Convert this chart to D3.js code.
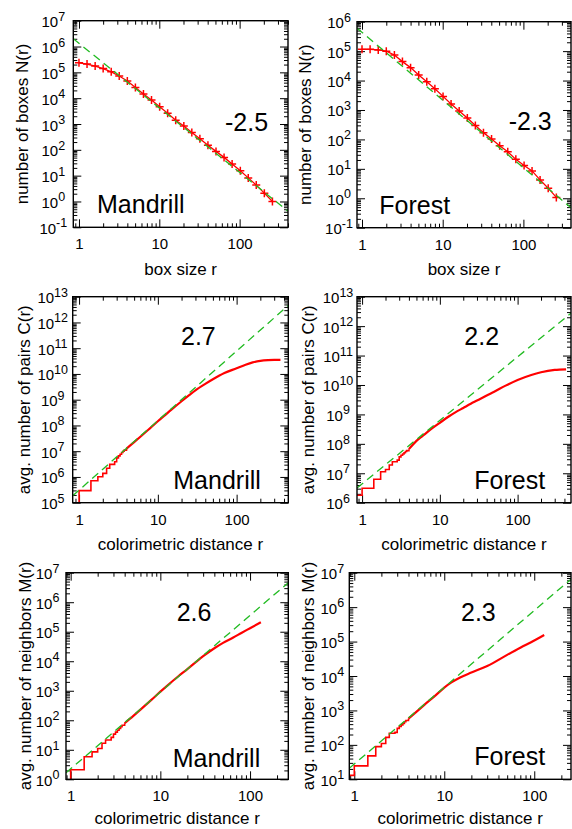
<!DOCTYPE html>
<html>
<head>
<meta charset="utf-8">
<script src="https://cdn.jsdelivr.net/npm/d3@7"></script>
<style>
  body { margin: 0; background: #fff; }
  svg { display: block; }
  text { font-family: "Liberation Sans", Arial, Helvetica, sans-serif; fill: #000; }
</style>
</head>
<body>
<script>
// box counting: box size r and number of boxes N(r)
const boxSizes = [1, 1.26, 1.59, 2, 2.52, 3.17, 4, 5.04, 6.35, 8, 10.1, 12.7, 16, 20.2, 25.4, 32, 40.3, 50.8, 64, 80.6, 102, 128, 161, 203, 256];
const boxesMandrill = [2.35e5, 2.1e5, 1.75e5, 1.4e5, 1.05e5, 7.2e4, 4.6e4, 2.6e4, 1.45e4, 8.5e3, 4.7e3, 2.6e3, 1.4e3, 830, 470, 270, 150, 87, 51, 28, 15.5, 8.2, 4.3, 2.1, 1.0];
const boxesForest = [1.15e5, 1.15e5, 1.1e5, 1.0e5, 7.4e4, 4.4e4, 2.75e4, 1.55e4, 9.1e3, 5.3e3, 2.9e3, 1.6e3, 930, 530, 295, 170, 103, 61, 38, 21, 13, 8.5, 4.2, 2.2, 1.07];

// colorimetric distances where the counts jump (sqrt of integers), first entry = below r=1
const stepR = [0.8, 1, 1.414, 1.732, 2, 2.236, 2.449, 2.828, 3, 3.162, 3.317, 3.464, 3.606, 3.742, 4];

// avg. number of pairs C(r)
const pairsMandrillStep = [3e4, 2.95e5, 7.1e5, 1.02e6, 1.38e6, 2.19e6, 3.09e6, 3.89e6, 5.5e6, 6.6e6, 7.6e6, 8.9e6, 1.0e7, 1.1e7, 1.26e7];
const pairsMandrillR = [4, 5, 6, 8, 10, 12, 15, 20, 25, 30, 40, 50, 70, 100, 130, 160, 200, 250, 300, 360];
const pairsMandrill = [1.26e7, 2.24e7, 3.63e7, 7.9e7, 1.45e8, 2.34e8, 4.2e8, 8.7e8, 1.5e9, 2.3e9, 4.1e9, 6.2e9, 1.08e10, 1.66e10, 2.29e10, 2.82e10, 3.24e10, 3.47e10, 3.55e10, 3.55e10];

const pairsForestStep = [1.8e6, 3.1e6, 6.3e6, 1.12e7, 1.35e7, 1.9e7, 2.45e7, 2.8e7, 3.6e7, 4.1e7, 4.5e7, 5.0e7, 5.5e7, 5.9e7, 6.6e7];
const pairsForestR = [4, 5, 6, 8, 10, 13, 16, 20, 25, 30, 40, 50, 70, 100, 150, 200, 300, 420];
const pairsForest = [6.6e7, 1.26e8, 1.86e8, 3.4e8, 5.2e8, 8.5e8, 1.2e9, 1.66e9, 2.3e9, 2.95e9, 4.4e9, 5.9e9, 9.5e9, 1.48e10, 2.19e10, 2.7e10, 3.24e10, 3.4e10];

// avg. number of neighbors M(r)
const neighborsMandrillStep = [0.5, 2.1, 5.8, 8.5, 11, 16.6, 21.4, 26.3, 33.9, 39.8, 45.7, 52.5, 60.3, 67.6, 79.4];
const neighborsMandrillR = [4, 5, 6, 8, 10, 13, 16, 20, 25, 30, 40, 50, 65, 80, 100, 132];
const neighborsMandrill = [79.4, 141, 229, 501, 933, 1.86e3, 3.16e3, 5.4e3, 9.5e3, 1.48e4, 2.75e4, 4.2e4, 6.4e4, 9.1e4, 1.32e5, 2.1e5];

const neighborsForestStep = [13, 24.5, 48, 89, 110, 165, 218, 230, 302, 340, 380, 420, 470, 510, 575];
const neighborsForestR = [4, 5, 6, 8, 10, 12, 15, 20, 30, 50, 70, 100, 129];
const neighborsForest = [575, 955, 1.45e3, 2.75e3, 4.6e3, 6.5e3, 9.1e3, 1.26e4, 1.95e4, 4.1e4, 6.6e4, 1.07e5, 1.55e5];

// power-law fits, two end points [r, value]
const fitBoxesMandrill = [[0.85, 2.0e6], [400, 0.42]];
const fitBoxesForest = [[0.867, 6.0e5], [389, 0.48]];
const fitPairsMandrill = [[0.83, 1.86e5], [453, 4.6e12]];
const fitPairsForest = [[0.86, 3.15e6], [486, 2.75e12]];
const fitNeighborsMandrill = [[0.887, 1.66], [267, 4.6e6]];
const fitNeighborsForest = [[0.88, 20.9], [256, 6.5e6]];

const zip = (a, b) => a.map((d, i) => [d, b[i]]);

const panels = [
    { left: 73.3, right: 288, top: 20.7, bottom: 227.3, xDomain: [0.85, 400], yDomain: [1e-1, 1e7],
      xLabel: "box size r", yLabel: "number of boxes N(r)", yLabelX: 28, tickOffset: 20, xLabelGap: 47.5,
      slope: "-2.5", slopeAt: [225, 130.7], name: "Mandrill", nameAt: [97, 213],
      points: zip(boxSizes, boxesMandrill), fit: fitBoxesMandrill },
    { left: 357, right: 571, top: 21.7, bottom: 227.7, xDomain: [0.867, 389], yDomain: [1e-1, 1e6],
      xLabel: "box size r", yLabel: "number of boxes N(r)", yLabelX: 311, tickOffset: 18, xLabelGap: 47,
      slope: "-2.3", slopeAt: [508.7, 130], name: "Forest", nameAt: [379.3, 214],
      points: zip(boxSizes, boxesForest), fit: fitBoxesForest },
    { left: 72.7, right: 288.3, top: 296.7, bottom: 502.7, xDomain: [0.83, 453], yDomain: [1e5, 1e13],
      xLabel: "colorimetric distance r", yLabel: "avg. number of pairs C(r)", yLabelX: 29.5, tickOffset: 20, xLabelGap: 47.5,
      slope: "2.7", slopeAt: [181, 345], name: "Mandrill", nameAt: [173.3, 489.3],
      steps: zip(stepR, pairsMandrillStep), smooth: zip(pairsMandrillR, pairsMandrill), fit: fitPairsMandrill },
    { left: 357, right: 571, top: 296.7, bottom: 502.7, xDomain: [0.86, 486], yDomain: [1e6, 1e13],
      xLabel: "colorimetric distance r", yLabel: "avg. number of pairs C(r)", yLabelX: 314, tickOffset: 19, xLabelGap: 47.5,
      slope: "2.2", slopeAt: [464.3, 345], name: "Forest", nameAt: [474.3, 489.3],
      steps: zip(stepR, pairsForestStep), smooth: zip(pairsForestR, pairsForest), fit: fitPairsForest },
    { left: 66, right: 288.3, top: 572.7, bottom: 779.3, xDomain: [0.887, 267], yDomain: [1e0, 1e7],
      xLabel: "colorimetric distance r", yLabel: "avg. number of neighbors M(r)", yLabelX: 31.4, tickOffset: 18.5, xLabelGap: 45,
      slope: "2.6", slopeAt: [176.7, 620.7], name: "Mandrill", nameAt: [172.7, 766.7],
      steps: zip(stepR, neighborsMandrillStep), smooth: zip(neighborsMandrillR, neighborsMandrill), fit: fitNeighborsMandrill },
    { left: 349.3, right: 571, top: 572.7, bottom: 779.3, xDomain: [0.88, 256], yDomain: [1e1, 1e7],
      xLabel: "colorimetric distance r", yLabel: "avg. number of neighbors M(r)", yLabelX: 314, tickOffset: 17, xLabelGap: 45,
      slope: "2.3", slopeAt: [461, 620.7], name: "Forest", nameAt: [474.3, 765],
      steps: zip(stepR, neighborsForestStep), smooth: zip(neighborsForestR, neighborsForest), fit: fitNeighborsForest }
];

const red = "#ff0000";
const green = "#22bb22";

const svg = d3.select("body")
    .append("svg")
    .attr("width", 572)
    .attr("height", 829);

panels.forEach((p, i) => drawPanel(p, i));

function decadeTicks(domain) {
    const lo = Math.floor(Math.log10(domain[0]));
    const hi = Math.ceil(Math.log10(domain[1]));
    const major = [], minor = [];
    for (let k = lo; k <= hi; k++) {
        const v = Math.pow(10, k);
        if (v >= domain[0] && v <= domain[1]) major.push(v);
        for (let m = 2; m <= 9; m++) {
            if (v * m >= domain[0] && v * m <= domain[1]) minor.push(v * m);
        }
    }
    return { major, minor };
}

function drawPanel(p, i) {
    const x = d3.scaleLog().domain(p.xDomain).range([p.left, p.right]);
    const y = d3.scaleLog().domain(p.yDomain).range([p.bottom, p.top]);
    const g = svg.append("g");

    svg.append("clipPath")
        .attr("id", "clip" + i)
        .append("rect")
        .attr("x", p.left)
        .attr("y", p.top)
        .attr("width", p.right - p.left)
        .attr("height", p.bottom - p.top);

    const xt = decadeTicks(p.xDomain);
    const yt = decadeTicks(p.yDomain);

    // inward ticks on all four sides
    const addAxis = (axis, tx, ty) => {
        const a = g.append("g")
            .attr("transform", `translate(${tx},${ty})`)
            .call(axis);
        a.select(".domain").remove();
        a.attr("font-family", null);
        a.selectAll("line").attr("stroke", "#000").attr("stroke-width", 1);
        return a;
    };
    const noLabel = () => "";

    addAxis(d3.axisBottom(x).tickValues(xt.minor).tickSize(-4).tickFormat(noLabel), 0, p.bottom);
    addAxis(d3.axisTop(x).tickValues(xt.minor).tickSize(-4).tickFormat(noLabel), 0, p.top);
    addAxis(d3.axisTop(x).tickValues(xt.major).tickSize(-8).tickFormat(noLabel), 0, p.top);
    const xAxis = addAxis(d3.axisBottom(x).tickValues(xt.major).tickSize(-8).tickPadding(11.5).tickFormat(d => d), 0, p.bottom);
    xAxis.selectAll("text").attr("font-size", 15);

    addAxis(d3.axisLeft(y).tickValues(yt.minor).tickSize(-4).tickFormat(noLabel), p.left, 0);
    addAxis(d3.axisRight(y).tickValues(yt.minor).tickSize(-4).tickFormat(noLabel), p.right, 0);
    addAxis(d3.axisRight(y).tickValues(yt.major).tickSize(-8).tickFormat(noLabel), p.right, 0);
    const yAxis = addAxis(d3.axisLeft(y).tickValues(yt.major).tickSize(-8).tickFormat(noLabel), p.left, 0);
    yAxis.selectAll(".tick text")
        .attr("x", -p.tickOffset)
        .attr("dy", "0.4em")
        .attr("text-anchor", "middle")
        .attr("font-size", 15)
        .each(function (d) {
            const t = d3.select(this);
            t.append("tspan").text("10");
            t.append("tspan")
                .attr("dy", -6.5)
                .attr("font-size", 12.5)
                .text(String(Math.round(Math.log10(d))));
        });

    // data
    const line = d3.line().x(d => x(d[0])).y(d => y(d[1]));
    const plot = g.append("g").attr("clip-path", `url(#clip${i})`);

    if (p.points) {
        plot.append("path")
            .datum(p.points)
            .attr("d", line)
            .attr("fill", "none")
            .attr("stroke", red)
            .attr("stroke-width", 1.3);
        plot.selectAll("path.pt")
            .data(p.points)
            .join("path")
            .attr("class", "pt")
            .attr("d", d => `M${x(d[0]) - 4},${y(d[1])}H${x(d[0]) + 4}M${x(d[0])},${y(d[1]) - 4}V${y(d[1]) + 4}`)
            .attr("stroke", red)
            .attr("stroke-width", 1.5);
    } else {
        plot.append("path")
            .datum(p.steps)
            .attr("d", d3.line().x(d => x(d[0])).y(d => y(d[1])).curve(d3.curveStepAfter))
            .attr("fill", "none")
            .attr("stroke", red)
            .attr("stroke-width", 1.6);
        plot.append("path")
            .datum(p.smooth)
            .attr("d", d3.line().x(d => x(d[0])).y(d => y(d[1])).curve(d3.curveMonotoneX))
            .attr("fill", "none")
            .attr("stroke", red)
            .attr("stroke-width", 2.2);
    }

    plot.append("path")
        .datum(p.fit)
        .attr("d", line)
        .attr("fill", "none")
        .attr("stroke", green)
        .attr("stroke-width", 1.3)
        .attr("stroke-dasharray", "8,5");

    // frame
    g.append("rect")
        .attr("x", p.left)
        .attr("y", p.top)
        .attr("width", p.right - p.left)
        .attr("height", p.bottom - p.top)
        .attr("fill", "none")
        .attr("stroke", "#000")
        .attr("stroke-width", 1.4);

    // labels
    g.append("text")
        .attr("x", (p.left + p.right) / 2)
        .attr("y", p.bottom + p.xLabelGap)
        .attr("text-anchor", "middle")
        .attr("font-size", 17)
        .text(p.xLabel);

    g.append("text")
        .attr("transform", `translate(${p.yLabelX},${(p.top + p.bottom) / 2}) rotate(-90)`)
        .attr("text-anchor", "middle")
        .attr("font-size", 17)
        .text(p.yLabel);

    g.append("text")
        .attr("x", p.slopeAt[0])
        .attr("y", p.slopeAt[1])
        .attr("font-size", 25)
        .text(p.slope);

    g.append("text")
        .attr("x", p.nameAt[0])
        .attr("y", p.nameAt[1])
        .attr("font-size", 25)
        .text(p.name);
}
</script>
</body>
</html>
